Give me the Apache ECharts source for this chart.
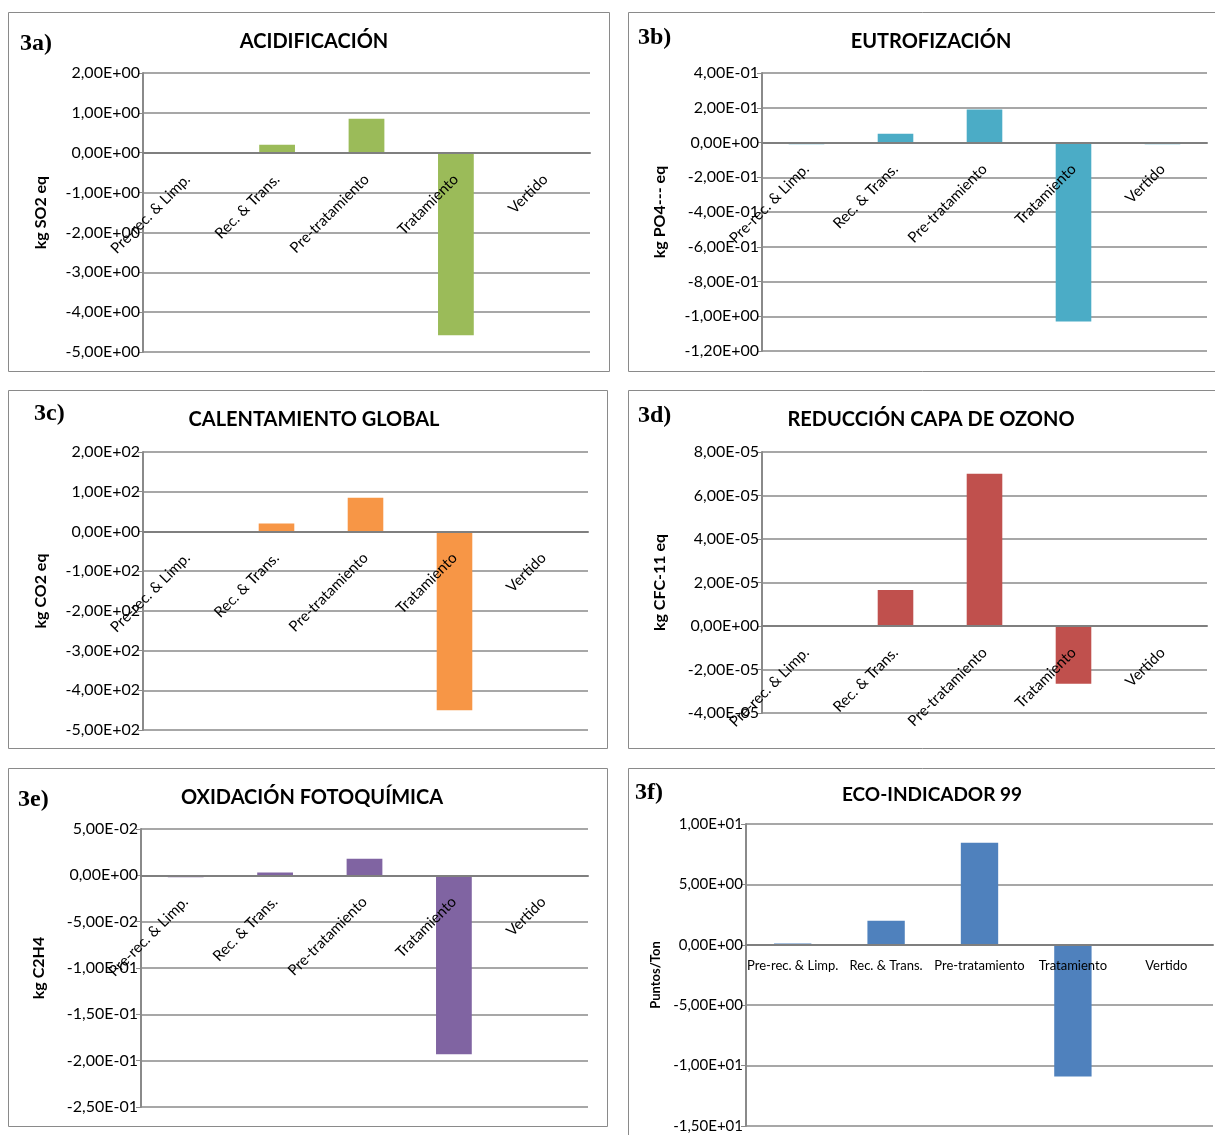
<!DOCTYPE html>
<html>
<head>
<meta charset="utf-8">
<script src="https://cdn.jsdelivr.net/npm/echarts@6/dist/echarts.min.js"></script>
<style>
  html, body { margin: 0; padding: 0; background: #fff; }
  #chart { width: 1215px; height: 1135px; }
</style>
</head>
<body>
<div id="chart"></div>
<script>
const categories = ['Pre-rec. & Limp.', 'Rec. & Trans.', 'Pre-tratamiento', 'Tratamiento', 'Vertido']

// values per impact category, one array per panel
const acidificacion = [0, 0.2, 0.85, -4.58, 0]
const eutrofizacion = [-0.01, 0.05, 0.19, -1.03, -0.01]
const calentamiento = [0, 20, 85, -450, 0]
const ozono = [0, 1.65e-5, 7.0e-5, -2.65e-5, 0]
const oxidacion = [-0.002, 0.003, 0.018, -0.193, 0]
const ecoIndicador = [0.1, 2.0, 8.45, -10.9, 0]

const panels = [
  { tag: '3a)', title: 'ACIDIFICACIÓN', unit: 'kg SO2 eq', data: acidificacion, min: -5, max: 2, step: 1, color: '#9BBB59',
    box: [8, 12, 601, 359], grid: [143, 73, 447, 279], tagPos: [20, 44], titleX: 309, titleY: 40, nameGap: 94 },
  { tag: '3b)', title: 'EUTROFIZACIÓN', unit: 'kg PO4--- eq', data: eutrofizacion, min: -1.2, max: 0.4, step: 0.2, color: '#4BACC6',
    box: [628, 12, 600, 359], grid: [762, 73, 445, 278], tagPos: [638, 38], titleX: 926, titleY: 40, nameGap: 94 },
  { tag: '3c)', title: 'CALENTAMIENTO GLOBAL', unit: 'kg CO2 eq', data: calentamiento, min: -500, max: 200, step: 100, color: '#F79646',
    box: [8, 390, 599, 358], grid: [143, 452, 445, 278], tagPos: [34, 414], titleX: 309, titleY: 418, nameGap: 94 },
  { tag: '3d)', title: 'REDUCCIÓN CAPA DE OZONO', unit: 'kg CFC-11 eq', data: ozono, min: -4e-5, max: 8e-5, step: 2e-5, color: '#C0504D',
    box: [628, 390, 600, 358], grid: [762, 452, 445, 261], tagPos: [638, 416], titleX: 926, titleY: 418, nameGap: 94 },
  { tag: '3e)', title: 'OXIDACIÓN FOTOQUÍMICA', unit: 'kg C2H4', data: oxidacion, min: -0.25, max: 0.05, step: 0.05, color: '#8064A2',
    box: [8, 768, 599, 358], grid: [141, 829, 447, 278], tagPos: [18, 800], titleX: 307, titleY: 796, nameGap: 94 },
  { tag: '3f)', title: 'ECO-INDICADOR 99', unit: 'Puntos/Ton', data: ecoIndicador, min: -15, max: 10, step: 5, color: '#4F81BD',
    box: [628, 768, 600, 380], grid: [746, 824, 467, 302], tagPos: [635, 793], titleX: 927, titleY: 793, nameGap: 84, small: true }
]

const sciFmt = (v) => {
  const s = Number(v).toExponential(2)
  const [m, e] = s.split('e')
  return m.replace('.', ',') + 'E' + e[0] + e.slice(1).padStart(2, '0')
}

const font = 'Lato, "Liberation Sans", sans-serif'
const chart = echarts.init(document.getElementById('chart'))

// category axis sits on the zero line: shift it up from the grid bottom
const zeroOffset = (p) => -p.grid[3] * (0 - p.min) / (p.max - p.min)

const option = {
  animation: false,
  backgroundColor: '#fff',
  title: panels.map((p) => ({
    text: p.title,
    left: p.titleX,
    top: p.titleY - 13,
    textAlign: 'center',
    textStyle: { fontFamily: font, fontWeight: 'bold', fontSize: p.small ? 19 : 20, color: '#000' }
  })),
  graphic: panels.flatMap((p) => [
    {
      type: 'rect',
      silent: true,
      shape: { x: p.box[0] + 0.5, y: p.box[1] + 0.5, width: p.box[2], height: p.box[3] },
      style: { fill: 'none', stroke: '#8a8a8a', lineWidth: 1 }
    },
    {
      type: 'text',
      silent: true,
      x: p.tagPos[0],
      y: p.tagPos[1],
      style: { text: p.tag, font: 'bold 24px "Liberation Serif", serif', fill: '#000', textVerticalAlign: 'middle' }
    }
  ]),
  grid: panels.map((p) => ({
    left: p.grid[0], top: p.grid[1], width: p.grid[2], height: p.grid[3],
    outerBoundsMode: 'none', containLabel: false
  })),
  xAxis: panels.map((p, i) => ({
    type: 'category',
    gridIndex: i,
    data: categories,
    position: 'bottom',
    offset: zeroOffset(p),
    z: 5,
    axisLine: { onZero: false, lineStyle: { color: '#7f7f7f', width: 2 } },
    axisTick: { show: false },
    axisLabel: p.small
      ? { interval: 0, margin: 15, fontFamily: font, fontSize: 13, color: '#000' }
      : { interval: 0, rotate: 45, margin: 24, fontFamily: font, fontSize: 15, color: '#000' }
  })),
  yAxis: panels.map((p, i) => ({
    type: 'value',
    gridIndex: i,
    min: p.min,
    max: p.max,
    interval: p.step,
    name: p.unit,
    nameLocation: 'middle',
    nameGap: p.nameGap,
    nameTextStyle: { fontFamily: font, fontWeight: 'bold', fontSize: p.small ? 13 : 16, color: '#000' },
    axisLine: { show: true, lineStyle: { color: '#8a8a8a', width: 2 } },
    axisTick: { show: true, length: 5, lineStyle: { color: '#8a8a8a' } },
    axisLabel: { formatter: sciFmt, margin: 3, fontFamily: font, fontSize: p.small ? 15 : 16, color: '#000' },
    splitLine: { lineStyle: { color: '#8a8a8a', width: 1.5 } }
  })),
  series: panels.map((p, i) => ({
    type: 'bar',
    xAxisIndex: i,
    yAxisIndex: i,
    data: p.data,
    barWidth: '40%',
    z: 2,
    itemStyle: { color: p.color }
  }))
}

chart.setOption(option)
</script>
</body>
</html>
